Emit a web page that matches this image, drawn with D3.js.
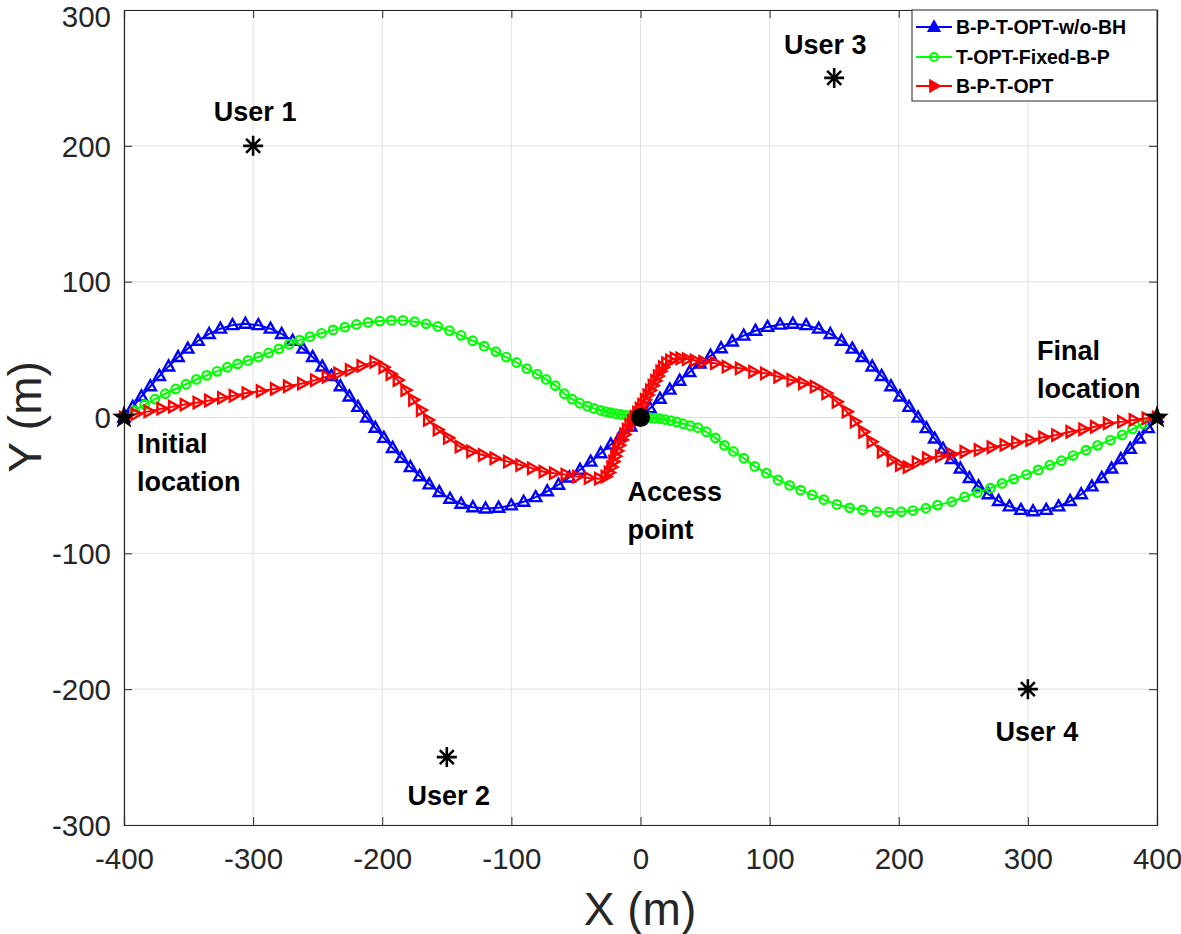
<!DOCTYPE html>
<html><head><meta charset="utf-8">
<script src="https://cdn.jsdelivr.net/npm/d3@7"></script>
<style>
body{margin:0;background:#fff}
svg{display:block}
text{font-family:"Liberation Sans",Arial,Helvetica,sans-serif}
</style>
</head><body>
<svg id="chart" width="1181" height="934"></svg>
<script>
// ---------------- data ----------------
const xTicks = [-400, -300, -200, -100, 0, 100, 200, 300, 400];
const yTicks = [-300, -200, -100, 0, 100, 200, 300];
const seriesNames = ["B-P-T-OPT-w/o-BH", "T-OPT-Fixed-B-P", "B-P-T-OPT"];
const seriesColors = ["#0000ff", "#00ff00", "#ff0000"];

const blueX = [-400,-393.2,-386.5,-379.6,-372.6,-365.5,-358.1,-350.6,-342.6,-334.1,-325.4,-316.0,-306,
  -296.0,-286.6,-277.9,-269.4,-261.4,-253.9,-246.5,-239.4,-232.4,-225.5,-218.8,-212,
  -205.4,-198.8,-192.0,-185.1,-178.2,-171.0,-163.6,-155.8,-147.5,-138.9,-129.8,-120,
  -109.9,-100.1,-90.5,-81.2,-72.2,-63.5,-55.1,-46.8,-38.6,-30.8,-23.0,-15.4,-7.6,0,
  7.4,15.1,22.7,30.3,38.0,46.0,54.2,62.4,71.0,79.9,89.0,98.4,108.1,118,
  128.3,138.0,147.0,155.7,164.0,171.7,179.4,186.7,194.0,201.0,208.0,215,
  221.4,227.8,234.3,241.0,247.7,254.7,261.8,269.4,277.4,285.7,294.6,304,
  314.2,323.8,332.7,341.3,349.5,357.2,364.8,372.0,379.2,386.2,393.1,400];
const blueY = [0,7.8,15.5,23.0,30.6,37.6,44.5,50.7,56.5,61.5,65.4,68.0,69,
  68.0,65.4,61.5,56.5,50.7,44.5,37.6,30.6,23.0,15.5,7.8,0,
  -7.6,-15.0,-22.4,-29.7,-36.5,-43.2,-49.2,-54.9,-59.8,-63.5,-66.1,-67,
  -66.4,-64.7,-62.0,-58.6,-54.3,-49.5,-44.2,-38.5,-32.5,-26.3,-19.9,-13.4,-6.6,0,
  6.8,13.8,20.5,27.1,33.5,39.7,45.5,51.0,56.0,60.3,63.9,66.7,68.4,69,
  68.0,65.4,61.5,56.5,50.7,44.5,37.6,30.6,23.0,15.5,7.8,0,
  -7.8,-15.5,-23.0,-30.6,-37.6,-44.5,-50.7,-56.5,-61.5,-65.4,-68.0,-69,
  -68.0,-65.4,-61.5,-56.5,-50.7,-44.5,-37.6,-30.6,-23.0,-15.5,-7.8,0];

const greenX = [-400,-392,-384,-376,-368,-360,-352,-344,-336,-328,-320,-312,-304,-296,-288,-280,-272,-264,-256,
  -247,-238,-229,-220,-211,-202,-193,-184,-175,-166,-157,-148,-139,-130,-121,-112,
  -104,-96,-88,-80,-73,-66,-59,-53,-47,-41,-36,-31,-27,-23,-19,-15,-11,-7,-3,0,
  3.5,7,11,15,19,23.5,28,33,38.5,44.5,51,58,65,72,80,88.5,97.5,106.5,115.5,124,133,142,152,162,172,183,193,202,
  211,221,230,241,251,261,271,280,289,299,308,317,326,335,345,354,364,373,381,389,400];
const greenY = [0,5,9.5,13.5,17.5,21,24.5,28,31,34,37,39.5,42,44.5,47.5,50.5,54,57,59.5,
  62,64.5,66.5,68.5,70,71,71.5,71.5,70.5,69,67,64,60.5,56.5,52.5,48.5,
  44.5,40.5,36,32,28,23.5,17.5,13.5,10.5,8.3,6.7,5.3,4.3,3.5,2.8,2.2,1.6,1,0.4,0,
  -0.1,-0.2,-0.5,-0.9,-1.5,-2.3,-3.3,-4.6,-6,-7.5,-10.5,-15,-20.5,-25,-30,-36,-41,-46,-50,-53.5,-57,-60.5,-64,-66.5,-68,-69.4,-69.6,-69.4,
  -68.5,-66.8,-64.5,-62,-58.5,-55.3,-52,-48.5,-45.3,-42,-38.6,-35,-31.8,-28,-24,-20.5,-16.6,-12.9,-8.5,-4.5,0];

const redX = [-400,-391,-381,-371,-362,-353,-343,-334,-324,-315,-305,-294,-283,-273,-262,-252,-243,-234,-225,-216,-206,
  -199,-193.5,-188,-182,-176,-170,-164.5,-157,-149,-140,-131,-122,-113,-102.5,-93,-84,-75,-67,-58,-49,-40,-32,-27,
  -24.5,-22.5,-21,-19.5,-18,-16.5,-14.5,-12.5,-10.5,-8.5,-6.5,-4.5,-2.5,-0.5,1.5,3.5,5.5,7.5,9.5,11.5,13.5,15.5,17.5,20,23,26.5,31,36,42,
  48.7,57.8,66.8,77,87.4,96.5,106.8,117,126,135,144,152,159.7,166,172.6,179,187,194.6,201,207,214,222,
  232,241,251,262,272,282,291,302,312,322,333,343,352,362,373,382,392,400];
const redY = [0,2.5,4.5,6.5,8,9.5,11,12.5,14.5,16,18,19.5,21,23,25,27.5,30,32.5,35,38,41,
  37,32,27.6,20.2,13,5.5,-1.8,-9,-15,-21.5,-25,-27.6,-30,-32.5,-35,-37.4,-39.9,-41,-42,-43.5,-44.5,-45,-43.5,
  -40.5,-36.5,-32.5,-28.5,-24.5,-20.5,-16.5,-12.5,-9,-5.5,-2.5,0.5,3.5,6.5,9.5,13,16.5,20,23.5,27,30.5,34,37,40,42,43.5,43.5,43,42,
  41,40,37.4,36.2,33.7,32.5,30,27.6,25.2,22.7,17.8,11.6,4.3,-3,-10.5,-17.8,-25.2,-31.3,-35,-36.5,-33,-30,
  -28.5,-27,-25.2,-23.9,-21.9,-20.2,-18.5,-16.6,-14.6,-12.9,-10.5,-8.7,-6.8,-4.3,-3.1,-1.8,-0.6,0];

const userX = [-300, -150, 150, 300];
const userY = [200, -250, 250, -200];
const userNames = ["User 1", "User 2", "User 3", "User 4"];
const endX = [-400, 400];
const endY = [0, 0];
const apX = [0];
const apY = [0];

// ---------------- layout ----------------
const svg = d3.select("#chart");
const x = d3.scaleLinear().domain([-400, 400]).range([124, 1157]);
const y = d3.scaleLinear().domain([-300, 300]).range([825, 10]);
const axisColor = "#262626";

// grid
const grid = svg.append("g");
grid.selectAll("line.gx").data(xTicks).join("line")
  .attr("x1", d => x(d)).attr("x2", d => x(d)).attr("y1", y(-300)).attr("y2", y(300))
  .attr("stroke", "#e1e1e1").attr("stroke-width", 1);
grid.selectAll("line.gy").data(yTicks).join("line")
  .attr("y1", d => y(d)).attr("y2", d => y(d)).attr("x1", x(-400)).attr("x2", x(400))
  .attr("stroke", "#e1e1e1").attr("stroke-width", 1);

// axes
const fmt = d => String(d);
const xAxisB = d3.axisBottom(x).tickValues(xTicks).tickSize(-8).tickPadding(0).tickFormat(fmt);
const xAxisT = d3.axisTop(x).tickValues(xTicks).tickSize(-8).tickFormat("");
const yAxisL = d3.axisLeft(y).tickValues(yTicks).tickSize(-8).tickPadding(0).tickFormat(fmt);
const yAxisR = d3.axisRight(y).tickValues(yTicks).tickSize(-8).tickFormat("");

function styleAxis(g) {
  g.select(".domain").attr("stroke", axisColor).attr("stroke-width", 1.2);
  g.selectAll(".tick line").attr("stroke", axisColor).attr("stroke-width", 1);
  g.selectAll(".tick text").attr("fill", "#262626").attr("font-size", 29.5)
    .style("font-family", '"Liberation Sans",Arial,Helvetica,sans-serif');
}
const gxB = svg.append("g").attr("transform", `translate(0,${y(-300)})`).call(xAxisB).call(styleAxis);
gxB.selectAll(".tick text").attr("dy", null).attr("y", 44);
const gxT = svg.append("g").attr("transform", `translate(0,${y(300)})`).call(xAxisT).call(styleAxis);
const gyL = svg.append("g").attr("transform", `translate(${x(-400)},0)`).call(yAxisL).call(styleAxis);
gyL.selectAll(".tick text").attr("x", -13).attr("dy", "0.35em");
gyL.selectAll(".tick").filter(d => d === 300).select("text").attr("dy", "0.72em").attr("y", -5);
const gyR = svg.append("g").attr("transform", `translate(${x(400)},0)`).call(yAxisR).call(styleAxis);

// marker shapes
const triUp = "M0,-6L5.6,4L-5.6,4Z";
const triRight = "M6,0L-4,-5.6L-4,5.6Z";

function drawSeries(xs, ys, color, kind) {
  const pts = xs.map((v, i) => [v, ys[i]]);
  const g = svg.append("g");
  g.append("path").datum(pts)
    .attr("d", d3.line().x(d => x(d[0])).y(d => y(d[1])))
    .attr("fill", "none").attr("stroke", color).attr("stroke-width", 2);
  if (kind === "circle") {
    g.selectAll("circle").data(pts).join("circle")
      .attr("cx", d => x(d[0])).attr("cy", d => y(d[1])).attr("r", 4.3)
      .attr("fill", "none").attr("stroke", color).attr("stroke-width", 2.2);
  } else {
    g.selectAll("path.m").data(pts).join("path").attr("class", "m")
      .attr("d", kind === "up" ? triUp : triRight)
      .attr("transform", d => `translate(${x(d[0])},${y(d[1])})`)
      .attr("fill", "none").attr("stroke", color).attr("stroke-width", 2.4)
      .attr("stroke-linejoin", "miter");
  }
}
drawSeries(blueX, blueY, seriesColors[0], "up");
drawSeries(greenX, greenY, seriesColors[1], "circle");
drawSeries(redX, redY, seriesColors[2], "right");

// users (asterisks)
const ast = "M0,-10V10M-10,0H10M-7,-7L7,7M-7,7L7,-7";
svg.append("g").selectAll("path").data(userX.map((v, i) => [v, userY[i]])).join("path")
  .attr("d", ast).attr("transform", d => `translate(${x(d[0])},${y(d[1])})`)
  .attr("stroke", "#000").attr("stroke-width", 2.6).attr("fill", "none");

// pentagram stars at start / end
function starPath(R, r) {
  let p = [];
  for (let k = 0; k < 10; k++) {
    const a = -Math.PI / 2 + k * Math.PI / 5;
    const rad = k % 2 === 0 ? R : r;
    p.push([rad * Math.cos(a), rad * Math.sin(a)]);
  }
  return "M" + p.map(q => q.join(",")).join("L") + "Z";
}
svg.append("g").selectAll("path").data(endX.map((v, i) => [v, endY[i]])).join("path")
  .attr("d", starPath(12.5, 5)).attr("transform", d => `translate(${x(d[0])},${y(d[1])})`)
  .attr("fill", "#000");

// access point
svg.append("g").selectAll("circle").data(apX.map((v, i) => [v, apY[i]])).join("circle")
  .attr("cx", d => x(d[0])).attr("cy", d => y(d[1])).attr("r", 9.5).attr("fill", "#000");

// labels
const lab = svg.append("g").attr("font-weight", "bold").attr("font-size", 27).attr("fill", "#000");
const userOff = [[2, -25], [2, 48], [-9, -24], [9, 52]];
userNames.forEach((n, i) => {
  lab.append("text").attr("x", x(userX[i]) + userOff[i][0]).attr("y", y(userY[i]) + userOff[i][1])
    .attr("text-anchor", "middle").text(n);
});
function multi(lines, px, py, lh) {
  const t = lab.append("text").attr("x", px).attr("y", py);
  lines.forEach((s, i) => t.append("tspan").attr("x", px).attr("y", py + i * lh).text(s));
}
multi(["Initial", "location"], x(-400) + 13, y(0) + 35, 38);
multi(["Access", "point"], x(0) - 13, y(0) + 83, 38);
multi(["Final", "location"], x(400) - 120, y(0) - 58, 38);

// axis titles
svg.append("text").attr("x", 640).attr("y", 925).attr("text-anchor", "middle")
  .attr("font-size", 46).attr("fill", "#262626").text("X (m)");
svg.append("text").attr("transform", "translate(41,417) rotate(-90)").attr("text-anchor", "middle")
  .attr("font-size", 46).attr("fill", "#262626").text("Y (m)");

// legend
const lg = svg.append("g");
lg.append("rect").attr("x", 912).attr("y", 10).attr("width", 245).attr("height", 91)
  .attr("fill", "#fff").attr("stroke", axisColor).attr("stroke-width", 1);
const legY = [27, 57, 86];
const kinds = ["up", "circle", "right"];
seriesNames.forEach((n, i) => {
  lg.append("line").attr("x1", 916).attr("x2", 952).attr("y1", legY[i]).attr("y2", legY[i])
    .attr("stroke", seriesColors[i]).attr("stroke-width", 2);
  if (kinds[i] === "circle") {
    lg.append("circle").attr("cx", 934).attr("cy", legY[i]).attr("r", 4)
      .attr("fill", "none").attr("stroke", seriesColors[i]).attr("stroke-width", 2);
  } else {
    lg.append("path").attr("d", kinds[i] === "up" ? triUp : triRight)
      .attr("transform", `translate(934,${legY[i]})`)
      .attr("fill", seriesColors[i]).attr("stroke", seriesColors[i]).attr("stroke-width", 1.8);
  }
  lg.append("text").attr("x", 956).attr("y", legY[i] + 7).attr("font-size", 19.5)
    .attr("font-weight", "bold").attr("fill", "#000").text(n);
});
</script>
</body></html>
